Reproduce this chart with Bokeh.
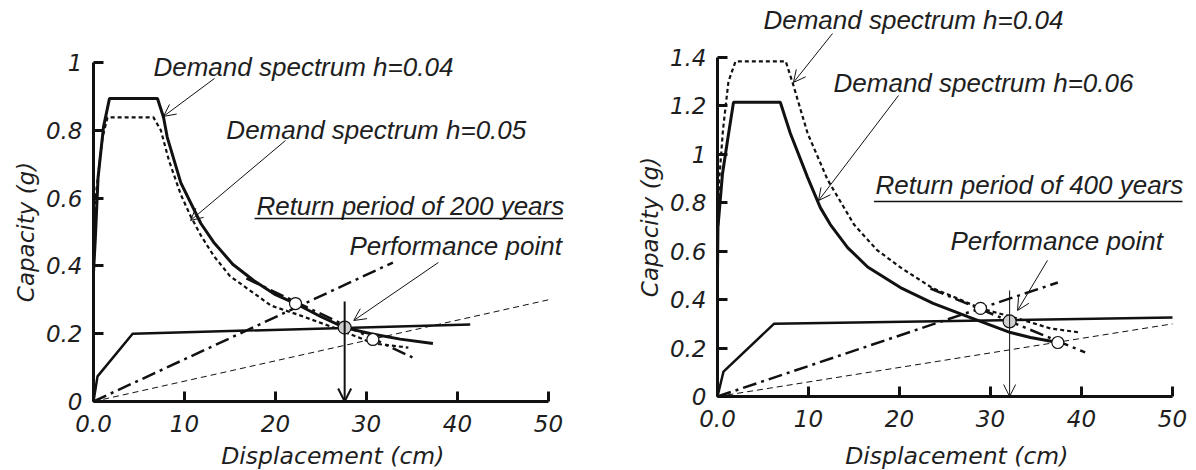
from bokeh.plotting import figure
from bokeh.layouts import row
from bokeh.models import Range1d, FixedTicker, Arrow, OpenHead
from bokeh.core.properties import value
from bokeh.embed import file_html
from bokeh.resources import INLINE

# ---------------- data: return period of 200 years ----------------
x_ticks = [0, 10, 20, 30, 40, 50]
x_tick_labels = ["0.0", "10", "20", "30", "40", "50"]
y_ticks_a = [0, 0.2, 0.4, 0.6, 0.8, 1.0]
y_tick_labels_a = ["0", "0.2", "0.4", "0.6", "0.8", "1"]
y_ticks_b = [0, 0.2, 0.4, 0.6, 0.8, 1.0, 1.2, 1.4]
y_tick_labels_b = ["0", "0.2", "0.4", "0.6", "0.8", "1", "1.2", "1.4"]

cap_a_disp = [0, 0.44, 4.3, 41.4]
cap_a_acc = [0, 0.074, 0.20, 0.227]

dem_a1_disp = [0, 0.2, 0.5, 1.1, 1.76, 7.03, 7.7, 8.1, 9.6, 11.8, 13.2, 15.3,
               17.6, 20.0, 22.2, 25.0, 27.6, 30.5, 33.7, 37.3]
dem_a1_acc = [0.38, 0.48, 0.66, 0.81, 0.894, 0.894, 0.838, 0.78, 0.645, 0.525,
              0.47, 0.405, 0.357, 0.315, 0.289, 0.25, 0.218, 0.20, 0.184, 0.171]

dem_a2_disp = [0, 0.3, 1.0, 1.54, 6.59, 7.4, 8.3, 9.6, 10.7, 11.8, 13.2, 15.0,
               19.5, 22.7, 26.4, 30.8, 34.6]
dem_a2_acc = [0.52, 0.62, 0.78, 0.838, 0.838, 0.80, 0.71, 0.61, 0.545, 0.49,
              0.43, 0.37, 0.283, 0.254, 0.218, 0.171, 0.159]

secant_a_disp = [0, 32.9]
secant_a_acc = [0, 0.41]
iter_a_disp = [16.8, 35.05]
iter_a_acc = [0.363, 0.13]
ref_a_disp = [0, 50]
ref_a_acc = [0, 0.30]

trial_a_disp = [22.2, 30.7]
trial_a_acc = [0.289, 0.183]
perf_a_disp = [27.6]
perf_a_acc = [0.218]

# ---------------- data: return period of 400 years ----------------
cap_b_disp = [0, 0.66, 6.2, 50]
cap_b_acc = [0, 0.103, 0.30, 0.326]

dem_b1_disp = [0, 0.05, 0.55, 1.1, 1.76, 6.9, 8.0, 9.9, 11.3, 12.4, 14.3, 16.5,
               20.1, 23.7, 27.5, 32.2, 34.4, 37.4]
dem_b1_acc = [0.51, 0.70, 0.92, 1.057, 1.215, 1.215, 1.087, 0.905, 0.78, 0.71,
              0.615, 0.535, 0.45, 0.385, 0.33, 0.264, 0.244, 0.223]

dem_b2_disp = [0, 0.2, 0.6, 1.2, 1.98, 7.5, 8.3, 9.9, 12.1, 15.0, 17.5, 20.1,
               23.7, 25.6, 28.9, 33.0, 36.6, 39.9]
dem_b2_acc = [0.62, 0.90, 1.10, 1.30, 1.384, 1.384, 1.29, 1.087, 0.895, 0.71,
              0.606, 0.533, 0.446, 0.417, 0.364, 0.322, 0.281, 0.264]

secant_b_disp = [0, 37.4]
secant_b_acc = [0, 0.471]
iter_b_disp = [23.4, 40.4]
iter_b_acc = [0.446, 0.182]
ref_b_disp = [0, 50]
ref_b_acc = [0, 0.30]

trial_b_disp = [28.9, 37.4]
trial_b_acc = [0.364, 0.223]
perf_b_disp = [32.1]
perf_b_acc = [0.31]

INK = "#111111"
TXT = "#1e1e1e"
NOTE_FONT = value("Liberation Sans")
NOTE_SIZE = "26px"
PX_PER_CM = 9.1


def make_panel(width, left_px, bottom_px, px_per_g, y_top_tick, y_ticks, y_labels):
    # the frame fills the whole canvas; axes sit at the data origin
    p = figure(width=width, height=470, title=None,
               x_range=Range1d(-left_px / PX_PER_CM, (width - left_px) / PX_PER_CM),
               y_range=Range1d(-bottom_px / px_per_g, (470 - bottom_px) / px_per_g),
               output_backend="svg", toolbar_location=None,
               min_border=0, min_border_left=0, min_border_right=0,
               min_border_top=0, min_border_bottom=0,
               background_fill_color="white", border_fill_color="white")
    p.outline_line_color = None
    p.xgrid.visible = False
    p.ygrid.visible = False

    p.xaxis.ticker = FixedTicker(ticks=x_ticks)
    p.xaxis.major_label_overrides = dict(zip(x_ticks, x_tick_labels))
    p.xaxis.bounds = (0, 50)
    p.xaxis.fixed_location = 0

    p.yaxis.ticker = FixedTicker(ticks=y_ticks)
    p.yaxis.major_label_overrides = dict(zip(y_ticks, y_labels))
    p.yaxis.bounds = (0, y_top_tick)
    p.yaxis.axis_label = "Capacity (g)"
    p.yaxis.fixed_location = 0

    for ax in (p.xaxis[0], p.yaxis[0]):
        ax.axis_line_width = 3
        ax.axis_line_color = INK
        ax.major_tick_in = 10
        ax.major_tick_out = 0
        ax.major_tick_line_width = 3
        ax.major_tick_line_color = INK
        ax.minor_tick_line_color = None
        ax.major_label_text_font = "DejaVu Sans"
        ax.major_label_text_font_style = "italic"
        ax.major_label_text_font_size = "23px"
        ax.major_label_text_color = TXT
        ax.axis_label_text_font = "DejaVu Sans"
        ax.axis_label_text_font_style = "italic"
        ax.axis_label_text_font_size = "23px"
        ax.axis_label_text_color = TXT
    p.xaxis.major_label_standoff = 13
    p.yaxis.major_label_standoff = 11
    p.yaxis.axis_label_standoff = 4

    # x-axis title, set a little right of the axis centre
    p.text(x=[26.3], y=[-(462 - (470 - bottom_px)) / px_per_g - 0.0],
           text=["Displacement (cm)"], text_font=value("DejaVu Sans"),
           text_font_style="italic", text_font_size="23.5px",
           text_align="center", text_baseline="alphabetic", text_color=TXT,
           y_offset=-7)
    return p


def note(p, x, y, text):
    p.text(x=[x], y=[y], text=[text], text_font=NOTE_FONT,
           text_font_style="italic", text_font_size=NOTE_SIZE,
           text_baseline="alphabetic", text_align="left", text_color=TXT,
           y_offset=-7)


def pointer(p, x0, y0, x1, y1, width=1, size=12):
    p.add_layout(Arrow(end=OpenHead(size=size, line_width=width, line_color=INK),
                       x_start=x0, y_start=y0, x_end=x1, y_end=y1,
                       line_width=width, line_color=INK))


# ---------------- left panel ----------------
pa = make_panel(600, 93, 69, 339.0, 1.0, y_ticks_a, y_tick_labels_a)

pa.line(ref_a_disp, ref_a_acc, line_color=INK, line_width=1, line_dash="6 4")
pa.line(secant_a_disp, secant_a_acc, line_color=INK, line_width=2.5, line_dash="14 5 3 5")
pa.line(iter_a_disp, iter_a_acc, line_color=INK, line_width=2.5, line_dash="14 5 3 5")
pa.line(dem_a2_disp, dem_a2_acc, line_color=INK, line_width=2.2, line_dash="4 3")
pa.line(dem_a1_disp, dem_a1_acc, line_color=INK, line_width=3)
pa.line(cap_a_disp, cap_a_acc, line_color=INK, line_width=2.5)

pa.scatter(trial_a_disp, trial_a_acc, size=12, fill_color="white",
           line_color=INK, line_width=1.2)
pa.scatter(perf_a_disp, perf_a_acc, size=13, fill_color="#cfcfcf",
           line_color=INK, line_width=1.2)
pointer(pa, perf_a_disp[0], 0.295, perf_a_disp[0], 0.0, width=2, size=13)

note(pa, 6.59, 0.965, "Demand spectrum h=0.04")
pointer(pa, 13.3, 0.953, 7.69, 0.841)
note(pa, 14.6, 0.779, "Demand spectrum h=0.05")
pointer(pa, 21.1, 0.770, 10.66, 0.534)
note(pa, 17.9, 0.555, "Return period of 200 years")
pa.segment(x0=[17.7], y0=[0.54], x1=[51.6], y1=[0.54], line_color=INK, line_width=1.5)
note(pa, 28.13, 0.4395, "Performance point")
pointer(pa, 37.9, 0.41, 28.6, 0.239)

# ---------------- right panel ----------------
yb = 339 / 1.4
pb = make_panel(596, 117, 74, yb, 1.4, y_ticks_b, y_tick_labels_b)

pb.line(ref_b_disp, ref_b_acc, line_color=INK, line_width=1, line_dash="6 4")
pb.line(secant_b_disp, secant_b_acc, line_color=INK, line_width=2.5, line_dash="14 5 3 5")
pb.line(iter_b_disp, iter_b_acc, line_color=INK, line_width=2.5, line_dash="14 5 3 5")
pb.line(dem_b2_disp, dem_b2_acc, line_color=INK, line_width=2.2, line_dash="4 3")
pb.line(dem_b1_disp, dem_b1_acc, line_color=INK, line_width=3)
pb.line(cap_b_disp, cap_b_acc, line_color=INK, line_width=2.5)

pb.scatter(trial_b_disp, trial_b_acc, size=12, fill_color="white",
           line_color=INK, line_width=1.2)
pb.scatter(perf_b_disp, perf_b_acc, size=13, fill_color="#cfcfcf",
           line_color=INK, line_width=1.2)
pointer(pb, perf_b_disp[0], 0.438, perf_b_disp[0], 0.0, width=1, size=12)

note(pb, 5.05, 1.524, "Demand spectrum h=0.04")
pointer(pb, 12.64, 1.499, 8.35, 1.297)
note(pb, 12.75, 1.264, "Demand spectrum h=0.06")
pointer(pb, 19.89, 1.243, 11.1, 0.809)
note(pb, 17.36, 0.8425, "Return period of 400 years")
pb.segment(x0=[17.2], y0=[0.805], x1=[51.1], y1=[0.805], line_color=INK, line_width=1.5)
note(pb, 25.6, 0.615, "Performance point")
pointer(pb, 36.26, 0.562, 32.97, 0.355)

layout = row(pa, pb)
open("out.html", "w").write(file_html(layout, INLINE))
